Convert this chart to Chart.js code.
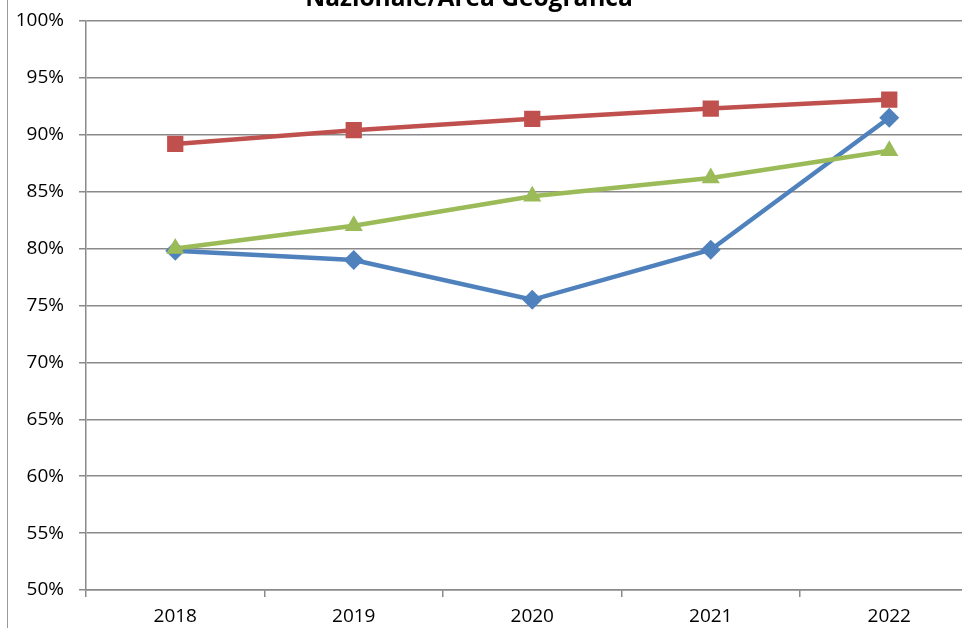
<!DOCTYPE html>
<html>
<head>
<meta charset="utf-8">
<script src="https://cdn.jsdelivr.net/npm/chart.js@4"></script>
<style>
  html, body { margin: 0; padding: 0; background: #fff; overflow: hidden; }
  #wrap { position: absolute; left: 0; top: 0; width: 990px; height: 628px; }
  #edge { position: absolute; left: 7px; top: 0; width: 1px; height: 628px; background: #9a9a9a; }
</style>
</head>
<body>
<div id="wrap"><canvas id="chart" width="990" height="628"></canvas></div>
<div id="edge"></div>
<script>
// Data
const years = ['2018', '2019', '2020', '2021', '2022'];
const serieBlu = [79.8, 79.0, 75.5, 79.9, 91.5];
const serieRossa = [89.2, 90.4, 91.4, 92.3, 93.1];
const serieVerde = [80.0, 82.0, 84.6, 86.2, 88.6];
const titolo = 'Nazionale/Area Geografica';

const FONT = '"Open Sans", "Liberation Sans", sans-serif';
const GRID = '#8a8a8a';

// title drawn at the top, partly cut off like in the original
const titlePlugin = {
    id: 'topTitle',
    afterDraw(chart) {
        const ctx = chart.ctx;
        ctx.save();
        ctx.font = 'bold 24.5px ' + FONT;
        ctx.fillStyle = '#000';
        ctx.textAlign = 'center';
        ctx.textBaseline = 'alphabetic';
        ctx.fillText(titolo, 469, 6);
        ctx.restore();
    }
};

function serie(data, color, style, radius) {
    return {
        data: data,
        borderColor: color,
        backgroundColor: color,
        borderWidth: 4.5,
        pointStyle: style,
        pointRadius: radius,
        pointBorderWidth: 0,
        tension: 0
    };
}

new Chart(document.getElementById('chart').getContext('2d'), {
    type: 'line',
    data: {
        labels: years,
        datasets: [
            serie(serieRossa, '#C0504D', 'rect', 11.5),
            serie(serieVerde, '#9BBB59', 'triangle', 10.5),
            serie(serieBlu, '#4F81BD', 'rectRot', 10)
        ]
    },
    options: {
        responsive: false,
        animation: false,
        layout: { padding: { top: 10, right: 6.5, left: 0, bottom: 0 } },
        plugins: {
            legend: { display: false },
            tooltip: { enabled: false }
        },
        scales: {
            x: {
                offset: true,
                grid: { offset: true, drawOnChartArea: false, drawTicks: true, tickLength: 7, color: GRID, lineWidth: 1.5 },
                border: { color: GRID, width: 1.5 },
                ticks: { color: '#000', font: { family: FONT, size: 19 }, padding: 8 },
                afterFit(scale) { scale.height = 38; }
            },
            y: {
                min: 50,
                max: 100,
                grid: { color: GRID, lineWidth: 1.5, tickLength: 7 },
                border: { color: GRID, width: 1.5 },
                ticks: {
                    stepSize: 5,
                    color: '#000',
                    font: { family: FONT, size: 19, lineHeight: 0.63 },
                    padding: 15,
                    callback: v => v + '%'
                },
                afterFit(scale) { scale.width = 86; }
            }
        }
    },
    plugins: [titlePlugin]
});
</script>
</body>
</html>
